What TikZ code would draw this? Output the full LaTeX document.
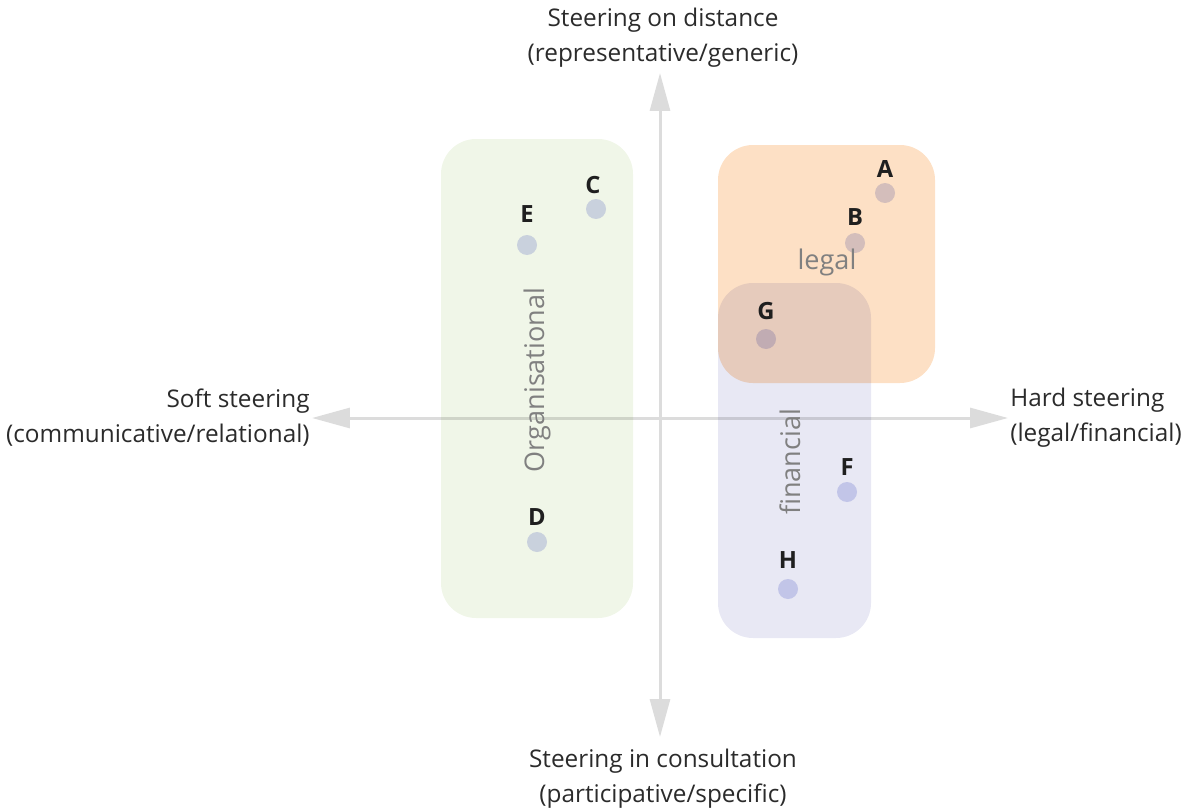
\documentclass[tikz,border=0pt]{standalone}
\usepackage{fontspec}
\setmainfont{Open Sans}
\usepackage{tikz}
\usetikzlibrary{arrows.meta}
\usetikzlibrary{positioning}

\definecolor{axisgray}{HTML}{DCDCDC}
\definecolor{orgfill}{HTML}{F0F6E8}
\definecolor{legalfill}{HTML}{FDE0C5}
\definecolor{finfill}{HTML}{E8E8F4}
\definecolor{dotfill}{HTML}{D6D9F3}
\definecolor{grptext}{HTML}{808080}
\definecolor{axtext}{HTML}{2B2B2B}

\begin{document}
\begin{tikzpicture}[x=0.02cm,y=-0.02cm,
	axisline/.style={draw=axisgray,line width=0.06cm,{Triangle[length=0.76cm,width=0.4cm]}-{Triangle[length=0.76cm,width=0.4cm]}},
	grpbox/.style={rounded corners=0.7cm,blend mode=multiply},
	dot/.style={circle,fill=dotfill,blend mode=multiply,minimum size=0.4cm,inner sep=0pt},
	ptlabel/.style={font=\fontsize{13.5}{15}\selectfont\bfseries,text=black!88,inner sep=0pt},
	axlabel/.style={font=\fontsize{13.85}{19.9}\selectfont,text=axtext,inner sep=0pt},
	grplabel/.style={font=\fontsize{15.4}{17}\selectfont,text=grptext,inner sep=0pt},
	every label/.style={ptlabel},
	]
	\useasboundingbox (0,0) rectangle (1189,811);

	% axes
	\coordinate (west) at (312,418);
	\coordinate (east) at (1008,418);
	\coordinate (north) at (660,73);
	\coordinate (south) at (660,737);
	\draw[axisline] (west) -- (east);
	\draw[axisline] (south) -- (north);

	% groups
	\fill[grpbox,orgfill] (441,139) rectangle (633,618);
	\fill[grpbox,legalfill] (718,145) rectangle (935,383);
	\fill[grpbox,finfill] (718,283) rectangle (871,638);

	% cases
	\node[dot,label={[label distance=0.09cm]above:A}] (A) at (885,193) {};
	\node[dot,label={[label distance=0.13cm]above:B}] (B) at (855,243) {};
	\node[dot,label={[label distance=0.09cm,xshift=-0.06cm]above:C}] (C) at (596,209) {};
	\node[dot,label={[label distance=0.23cm]above:E}] (E) at (527,245) {};
	\node[dot,label={[label distance=0.17cm]above:G}] (G) at (766,339) {};
	\node[dot,label={[label distance=0.11cm]above:F}] (F) at (847,492) {};
	\node[dot,label={[label distance=0.11cm]above:D}] (D) at (537,542) {};
	\node[dot,label={[label distance=0.19cm]above:H}] (H) at (788,589) {};

	% group names
	\node[grplabel] (legal) at (827,262) {legal};
	\node[grplabel,rotate=90] (org) at (537,380) {Organisational};
	\node[grplabel,rotate=90] (fin) at (790,462) {financial};

	% axis names
	\node[axlabel,align=center] (top) at (663,38) {Steering on distance\\(representative/generic)};
	\node[axlabel,align=center] (bottom) at (663,779) {Steering in consultation\\(participative/specific)};
	\node[axlabel,align=right,anchor=east] (left) at (310,418) {Soft steering\\(communicative/relational)};
	\node[axlabel,align=left,anchor=west] (right) at (1010,418) {Hard steering\\(legal/financial)};
\end{tikzpicture}
\end{document}
